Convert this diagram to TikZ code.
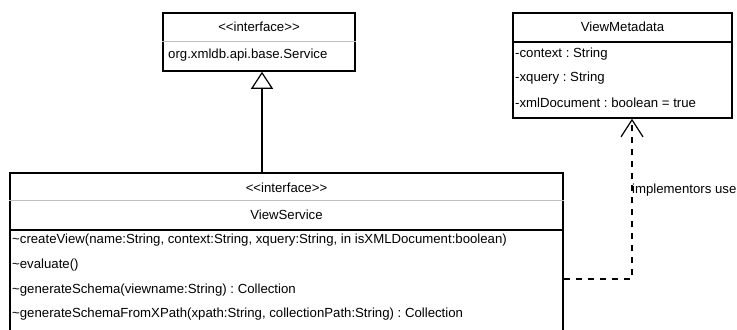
\documentclass[tikz,border=0pt]{standalone}
\usepackage{fontspec}
\newfontfamily\umlfamily{Liberation Sans}
\usepackage{tikz}
\usetikzlibrary{arrows.meta,positioning}
\newcommand{\umltext}{\umlfamily\fontsize{13.2bp}{16bp}\selectfont\frenchspacing}

\begin{document}
\begin{tikzpicture}[x=1bp, y=-1bp,
    classbox/.style={draw, line width=1.5bp, rectangle, inner sep=0pt},
    divider/.style={draw=black!25, line width=0.8bp},
    rule/.style={line width=1.5bp},
    member/.style={anchor=west, inner sep=0pt, font=\umltext},
    title/.style={inner sep=0pt, font=\umltext},
    realizes/.style={-{Triangle[open, length=17bp, width=22bp, fill=white]}, line width=1.2bp},
    uses/.style={-{Straight Barb[length=17bp, width=22bp]}, dash pattern=on 6bp off 6bp, line width=1.2bp}]

  \useasboundingbox (0,0) rectangle (737,329);
  \clip (0,0) rectangle (737,329);

  % the Service interface
  \node [classbox, minimum width=192bp, minimum height=58bp] (service) at (259,42) {};
  \node [title] (servicestereo) at (259,27) {<<interface>>};
  \draw [divider] (service.west |- 0,41) -- (service.east |- 0,41);
  \node [member] (servicename) at (168,55) {org.xmldb.api.base.Service};

  % ViewMetadata
  \node [classbox, minimum width=219bp, minimum height=105bp] (meta) at (622.5,65.5) {};
  \node [title] (metaname) at (622.5,27) {ViewMetadata};
  \draw [rule] (meta.west |- 0,42) -- (meta.east |- 0,42);
  \node [member] (metacontext) at (515,54) {-context : String};
  \node [member] (metaxquery) at (515,78.5) {-xquery : String};
  \node [member] (metaxml) at (515,103) {-xmlDocument : boolean = true};

  % ViewService
  \node [classbox, minimum width=553bp, minimum height=180bp] (viewsvc) at (286.5,263) {};
  \node [title] (viewsvcstereo) at (286.5,188) {<<interface>>};
  \draw [divider] (viewsvc.west |- 0,200) -- (viewsvc.east |- 0,200);
  \node [title] (viewsvcname) at (286.5,215) {ViewService};
  \draw [rule] (viewsvc.west |- 0,230) -- (viewsvc.east |- 0,230);
  \node [member] (createview) at (12,240) {\textasciitilde createView(name:String, context:String, xquery:String, in isXMLDocument:boolean)};
  \node [member] (evaluate) at (12,265) {\textasciitilde evaluate()};
  \node [member] (genschema) at (12,290) {\textasciitilde generateSchema(viewname:String) : Collection};
  \node [member] (genxpath) at (12,314) {\textasciitilde generateSchemaFromXPath(xpath:String, collectionPath:String) : Collection};

  % connectors
  \draw [realizes] ([xshift=3bp]service.south |- viewsvc.north) -- ([xshift=3bp]service.south);
  \coordinate (usebend) at (632,279);
  \draw [uses] (viewsvc.east |- usebend) -- (usebend) -- (usebend |- meta.south);
  \node [member] (uselabel) at (632,190) {implementors use};
\end{tikzpicture}
\end{document}
